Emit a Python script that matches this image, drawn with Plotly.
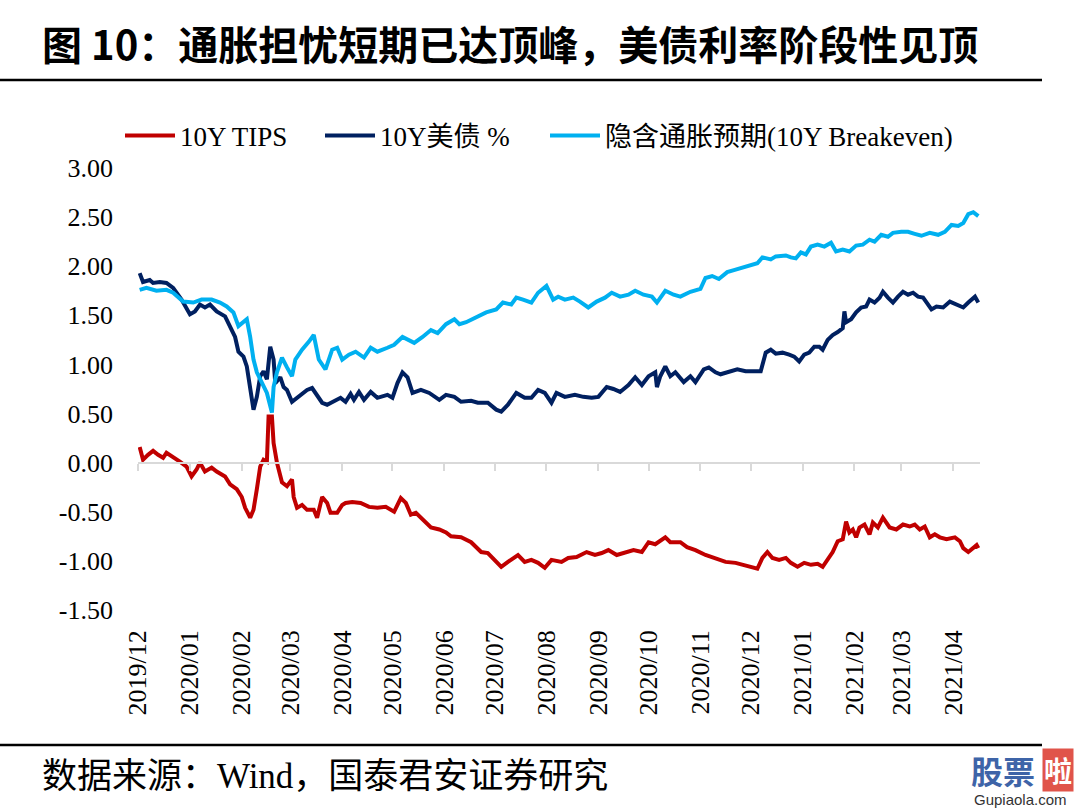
import plotly.graph_objects as go

# ---------------- data ----------------
tips_dates = ["2019-12-02","2019-12-04","2019-12-07","2019-12-10","2019-12-13","2019-12-16","2019-12-18","2019-12-22","2019-12-26","2019-12-30",
"2020-01-02","2020-01-05","2020-01-07","2020-01-10","2020-01-14","2020-01-17","2020-01-22","2020-01-25","2020-01-29","2020-02-01",
"2020-02-03","2020-02-06","2020-02-08","2020-02-10","2020-02-12","2020-02-14","2020-02-16","2020-02-17","2020-02-19","2020-02-20",
"2020-02-22","2020-02-25","2020-02-28","2020-03-02","2020-03-03","2020-03-05","2020-03-08","2020-03-11","2020-03-15","2020-03-17",
"2020-03-20","2020-03-23","2020-03-25","2020-03-29","2020-04-01","2020-04-03","2020-04-07","2020-04-12","2020-04-17","2020-04-22",
"2020-04-27","2020-05-02","2020-05-06","2020-05-09","2020-05-12","2020-05-15","2020-05-20","2020-05-24","2020-05-29","2020-06-02",
"2020-06-05","2020-06-11","2020-06-17","2020-06-23","2020-06-27","2020-07-02","2020-07-05","2020-07-09","2020-07-15","2020-07-19",
"2020-07-23","2020-07-27","2020-07-31","2020-08-04","2020-08-10","2020-08-14","2020-08-19","2020-08-25","2020-08-30","2020-09-03",
"2020-09-07","2020-09-12","2020-09-17","2020-09-22","2020-09-27","2020-10-01","2020-10-05","2020-10-08","2020-10-11","2020-10-14",
"2020-10-20","2020-10-24","2020-10-29","2020-11-04","2020-11-10","2020-11-16","2020-11-22","2020-11-26","2020-12-01","2020-12-05",
"2020-12-08","2020-12-11","2020-12-14","2020-12-18","2020-12-22","2020-12-25","2020-12-29","2021-01-02","2021-01-06","2021-01-10",
"2021-01-13","2021-01-16","2021-01-19","2021-01-22","2021-01-25","2021-01-27","2021-01-29","2021-01-31","2021-02-02","2021-02-04",
"2021-02-07","2021-02-10","2021-02-12","2021-02-15","2021-02-18","2021-02-22","2021-02-26","2021-03-02","2021-03-06","2021-03-09",
"2021-03-12","2021-03-15","2021-03-18","2021-03-21","2021-03-24","2021-03-28","2021-04-02","2021-04-05","2021-04-07","2021-04-10",
"2021-04-13","2021-04-15","2021-04-16"]
tips_values = [0.16,0.03,0.08,0.12,0.08,0.05,0.10,0.06,0.01,-0.04,
-0.14,-0.07,0.00,-0.09,-0.05,-0.09,-0.14,-0.22,-0.27,-0.35,
-0.46,-0.56,-0.48,-0.27,-0.04,0.03,0.01,0.47,0.47,0.20,
0.00,-0.20,-0.24,-0.17,-0.35,-0.46,-0.43,-0.48,-0.48,-0.56,
-0.35,-0.41,-0.51,-0.51,-0.43,-0.41,-0.40,-0.41,-0.45,-0.46,
-0.45,-0.50,-0.36,-0.41,-0.53,-0.51,-0.60,-0.66,-0.68,-0.71,
-0.75,-0.76,-0.81,-0.91,-0.92,-1.01,-1.06,-1.01,-0.94,-1.01,
-0.99,-1.02,-1.07,-0.99,-1.01,-0.97,-0.96,-0.91,-0.94,-0.92,
-0.89,-0.94,-0.92,-0.89,-0.91,-0.81,-0.83,-0.80,-0.76,-0.81,
-0.81,-0.86,-0.89,-0.94,-0.97,-1.01,-1.02,-1.04,-1.06,-1.08,
-0.97,-0.91,-0.97,-0.99,-0.97,-1.02,-1.06,-1.02,-1.04,-1.03,
-1.06,-0.99,-0.91,-0.80,-0.78,-0.60,-0.71,-0.68,-0.76,-0.66,
-0.63,-0.73,-0.61,-0.66,-0.56,-0.66,-0.68,-0.63,-0.65,-0.63,
-0.68,-0.65,-0.76,-0.73,-0.76,-0.78,-0.76,-0.80,-0.87,-0.91,
-0.86,-0.84,-0.87]

ust_dates = ["2019-12-02","2019-12-04","2019-12-08","2019-12-10","2019-12-14","2019-12-18","2019-12-22","2019-12-27","2020-01-01","2020-01-04",
"2020-01-07","2020-01-10","2020-01-13","2020-01-17","2020-01-22","2020-01-25","2020-01-28","2020-01-30","2020-02-02","2020-02-04",
"2020-02-06","2020-02-08","2020-02-10","2020-02-12","2020-02-14","2020-02-16","2020-02-18","2020-02-20","2020-02-21","2020-02-24",
"2020-02-26","2020-02-28","2020-03-02","2020-03-06","2020-03-11","2020-03-14","2020-03-20","2020-03-23","2020-03-29","2020-03-31",
"2020-04-03","2020-04-06","2020-04-08","2020-04-11","2020-04-14","2020-04-18","2020-04-22","2020-04-28","2020-05-01","2020-05-04",
"2020-05-07","2020-05-10","2020-05-13","2020-05-18","2020-05-23","2020-05-29","2020-06-02","2020-06-07","2020-06-11","2020-06-17",
"2020-06-21","2020-06-27","2020-07-02","2020-07-05","2020-07-09","2020-07-14","2020-07-19","2020-07-23","2020-07-27","2020-07-31",
"2020-08-04","2020-08-07","2020-08-12","2020-08-18","2020-08-23","2020-08-28","2020-09-01","2020-09-06","2020-09-10","2020-09-14",
"2020-09-19","2020-09-23","2020-09-27","2020-10-01","2020-10-05","2020-10-06","2020-10-08","2020-10-11","2020-10-14","2020-10-17",
"2020-10-22","2020-10-26","2020-10-29","2020-11-03","2020-11-06","2020-11-10","2020-11-13","2020-11-19","2020-11-23","2020-11-28",
"2020-12-04","2020-12-07","2020-12-10","2020-12-13","2020-12-16","2020-12-20","2020-12-24","2020-12-27","2020-12-30","2021-01-02",
"2021-01-05","2021-01-08","2021-01-11","2021-01-13","2021-01-16","2021-01-19","2021-01-22","2021-01-25","2021-01-26","2021-01-27",
"2021-01-30","2021-02-02","2021-02-05","2021-02-08","2021-02-10","2021-02-13","2021-02-16","2021-02-18","2021-02-21","2021-02-24",
"2021-02-27","2021-03-02","2021-03-05","2021-03-08","2021-03-11","2021-03-14","2021-03-17","2021-03-19","2021-03-22","2021-03-26",
"2021-03-30","2021-04-03","2021-04-07","2021-04-10","2021-04-14","2021-04-16"]
ust_values = [1.93,1.84,1.86,1.83,1.84,1.83,1.78,1.66,1.51,1.54,
1.61,1.58,1.61,1.54,1.49,1.39,1.28,1.13,1.08,0.98,
0.74,0.54,0.67,0.88,0.93,0.85,1.18,1.05,0.81,0.87,
0.77,0.74,0.62,0.67,0.74,0.76,0.61,0.59,0.64,0.66,
0.62,0.70,0.64,0.72,0.64,0.72,0.66,0.69,0.66,0.81,
0.92,0.87,0.71,0.74,0.71,0.64,0.69,0.67,0.62,0.63,
0.61,0.61,0.54,0.52,0.59,0.71,0.66,0.66,0.74,0.71,
0.61,0.71,0.67,0.69,0.67,0.66,0.67,0.77,0.75,0.72,
0.79,0.87,0.79,0.88,0.92,0.77,0.88,0.98,0.88,0.92,
0.82,0.88,0.82,0.95,0.97,0.92,0.90,0.93,0.95,0.93,
0.93,0.93,1.12,1.15,1.11,1.12,1.10,1.08,1.03,1.10,
1.12,1.18,1.18,1.15,1.25,1.30,1.33,1.37,1.54,1.43,
1.46,1.53,1.58,1.59,1.66,1.63,1.68,1.74,1.68,1.63,
1.69,1.74,1.71,1.73,1.69,1.68,1.61,1.56,1.59,1.58,
1.64,1.61,1.58,1.63,1.69,1.63]

be_dates = ["2019-12-02","2019-12-06","2019-12-12","2019-12-18","2019-12-22","2019-12-28","2020-01-03","2020-01-08","2020-01-14","2020-01-19",
"2020-01-23","2020-01-27","2020-01-30","2020-02-02","2020-02-04","2020-02-06","2020-02-08","2020-02-10","2020-02-13","2020-02-16",
"2020-02-19","2020-02-20","2020-02-22","2020-02-25","2020-02-28","2020-03-02","2020-03-04","2020-03-08","2020-03-12","2020-03-15",
"2020-03-18","2020-03-22","2020-03-26","2020-03-29","2020-04-01","2020-04-05","2020-04-09","2020-04-14","2020-04-18","2020-04-22",
"2020-04-28","2020-05-02","2020-05-07","2020-05-10","2020-05-14","2020-05-19","2020-05-24","2020-05-28","2020-06-02","2020-06-07",
"2020-06-10","2020-06-14","2020-06-20","2020-06-26","2020-07-02","2020-07-06","2020-07-11","2020-07-14","2020-07-18","2020-07-23",
"2020-07-27","2020-08-01","2020-08-05","2020-08-08","2020-08-12","2020-08-17","2020-08-21","2020-08-26","2020-08-31","2020-09-05",
"2020-09-09","2020-09-14","2020-09-19","2020-09-23","2020-09-28","2020-10-03","2020-10-06","2020-10-11","2020-10-16","2020-10-20",
"2020-10-26","2020-11-01","2020-11-04","2020-11-08","2020-11-12","2020-11-17","2020-11-21","2020-11-25","2020-12-01","2020-12-05",
"2020-12-08","2020-12-13","2020-12-16","2020-12-22","2020-12-25","2020-12-28","2020-12-31","2021-01-03","2021-01-06","2021-01-10",
"2021-01-14","2021-01-18","2021-01-21","2021-01-25","2021-01-29","2021-02-02","2021-02-06","2021-02-10","2021-02-13","2021-02-17",
"2021-02-21","2021-02-24","2021-03-01","2021-03-05","2021-03-09","2021-03-13","2021-03-18","2021-03-23","2021-03-27","2021-03-31",
"2021-04-04","2021-04-07","2021-04-10","2021-04-13","2021-04-16"]
be_values = [1.76,1.78,1.75,1.76,1.73,1.64,1.63,1.66,1.66,1.63,
1.59,1.53,1.39,1.44,1.46,1.28,1.05,0.92,0.82,0.71,
0.51,0.77,0.92,1.07,0.97,0.88,1.05,1.15,1.23,1.30,
1.05,0.95,1.15,1.17,1.05,1.10,1.13,1.07,1.17,1.13,
1.17,1.20,1.28,1.25,1.22,1.28,1.35,1.32,1.41,1.46,
1.41,1.43,1.48,1.53,1.56,1.63,1.61,1.68,1.66,1.63,
1.73,1.80,1.66,1.69,1.66,1.68,1.64,1.58,1.64,1.68,
1.73,1.69,1.71,1.75,1.71,1.69,1.63,1.75,1.71,1.69,
1.74,1.77,1.88,1.90,1.87,1.94,1.96,1.98,2.00,2.03,
2.09,2.07,2.10,2.11,2.09,2.08,2.14,2.12,2.20,2.22,
2.20,2.24,2.15,2.17,2.15,2.21,2.22,2.27,2.25,2.32,
2.30,2.34,2.35,2.35,2.33,2.31,2.34,2.32,2.35,2.42,
2.41,2.44,2.53,2.55,2.51]

series_names = ["10Y TIPS", "10Y美债 %", "隐含通胀预期(10Y Breakeven)"]
y_ticks = [3.0, 2.5, 2.0, 1.5, 1.0, 0.5, 0.0, -0.5, -1.0, -1.5]
y_tick_labels = ["3.00", "2.50", "2.00", "1.50", "1.00", "0.50", "0.00", "-0.50", "-1.00", "-1.50"]
x_start, x_end = "2019-12-01", "2021-04-17"

title_text = "图 10：通胀担忧短期已达顶峰，美债利率阶段性见顶"
source_text = "数据来源：Wind，国泰君安证券研究"

# ---------------- figure ----------------
SERIF = "Liberation Serif, 'Times New Roman', 'Noto Sans CJK SC', serif"
W, H = 1080, 811
L, R, T, B = 138, 100, 168, 201
pw, ph = W - L - R, H - T - B

def px_x(p):
    return (p - L) / pw

def px_y(p):
    return (H - B - p) / ph

fig = go.Figure()
colors = ["#C00000", "#002060", "#00B0F0"]
legend_ids = ["legend", "legend2", "legend3"]
legend_left_px = [120, 320, 545]
for dates, vals, name, col, lg in [(tips_dates, tips_values, series_names[0], colors[0], legend_ids[0]),
                                   (ust_dates, ust_values, series_names[1], colors[1], legend_ids[1]),
                                   (be_dates, be_values, series_names[2], colors[2], legend_ids[2])]:
    fig.add_trace(go.Scatter(x=dates, y=vals, name=name, mode="lines", legend=lg,
                             line=dict(color=col, width=4), hoverinfo="skip"))

# invisible trace to realise the zero-crossing axis
fig.add_trace(go.Scatter(x=[x_start], y=[0], xaxis="x2", mode="lines",
                         showlegend=False, line=dict(width=0), hoverinfo="skip"))

legend_style = dict(orientation="h", xanchor="left", y=px_y(136), yanchor="middle",
                    font=dict(family=SERIF, size=27, color="#000000"),
                    bgcolor="rgba(0,0,0,0)", itemwidth=50)

fig.update_layout(
    width=W, height=H,
    margin=dict(l=L, r=R, t=T, b=B),
    paper_bgcolor="white", plot_bgcolor="white",
    font=dict(family=SERIF, size=26, color="#000000"),
    xaxis=dict(type="date", range=[x_start, x_end], dtick="M1", tick0="2019-12-01",
               tickformat="%Y/%m", tickangle=-90, showgrid=False, showline=False,
               ticks="", zeroline=False, ticklabelstandoff=14,
               tickfont=dict(family=SERIF, size=26, color="#000000")),
    xaxis2=dict(type="date", range=[x_start, x_end], dtick="M1", tick0="2019-12-01",
                overlaying="x", anchor="free", position=1/3, side="bottom",
                showline=True, linecolor="#D9D9D9", linewidth=2,
                ticks="outside", ticklen=7, tickwidth=2, tickcolor="#D9D9D9",
                showticklabels=False, showgrid=False, zeroline=False),
    yaxis=dict(range=[-1.5, 3.0], tickvals=y_ticks, ticktext=y_tick_labels,
               showgrid=False, zeroline=False, showline=False, ticks="",
               ticklabelstandoff=24,
               tickfont=dict(family=SERIF, size=26, color="#000000")),
    legend=dict(x=px_x(legend_left_px[0]), **legend_style),
    legend2=dict(x=px_x(legend_left_px[1]), **legend_style),
    legend3=dict(x=px_x(legend_left_px[2]), **legend_style),
    title=dict(text="<b>" + title_text + "</b>", xref="container", x=42 / W, xanchor="left",
               yref="container", y=1 - 46 / H, yanchor="middle",
               font=dict(family="'Noto Sans CJK SC', sans-serif", size=40, color="#000000")),
    showlegend=True,
)

# horizontal rules under title and above source
fig.add_shape(type="line", xref="paper", yref="paper", x0=px_x(0), x1=px_x(1042),
              y0=px_y(80), y1=px_y(80), line=dict(color="#000000", width=2.5))
fig.add_shape(type="line", xref="paper", yref="paper", x0=px_x(0), x1=px_x(1042),
              y0=px_y(745), y1=px_y(745), line=dict(color="#000000", width=2.5))

fig.add_annotation(text=source_text, xref="paper", yref="paper", x=px_x(40), y=px_y(776),
                   xanchor="left", yanchor="middle", showarrow=False,
                   font=dict(family=SERIF, size=35, color="#000000"))

# watermark
fig.add_annotation(text="<b>股票</b>", xref="paper", yref="paper", x=px_x(1003), y=px_y(770),
                   xanchor="center", yanchor="middle", showarrow=False,
                   font=dict(family="'Noto Sans CJK SC', sans-serif", size=32, color="#3E64A8"))
fig.add_annotation(text="<b>啦</b>", xref="paper", yref="paper", x=px_x(1058), y=px_y(770),
                   xanchor="center", yanchor="middle", showarrow=False, bgcolor="#E0544A",
                   font=dict(family="'Noto Sans CJK SC', sans-serif", size=28, color="#FFFFFF"))
fig.add_annotation(text="Gupiaola.com", xref="paper", yref="paper", x=px_x(1020), y=px_y(799),
                   xanchor="center", yanchor="middle", showarrow=False,
                   font=dict(family="'Liberation Sans Narrow', 'Liberation Sans', sans-serif", size=15, color="#333333"))

fig.write_html("out.html", config={"displayModeBar": False},
               post_script="document.body.style.margin='0';")
